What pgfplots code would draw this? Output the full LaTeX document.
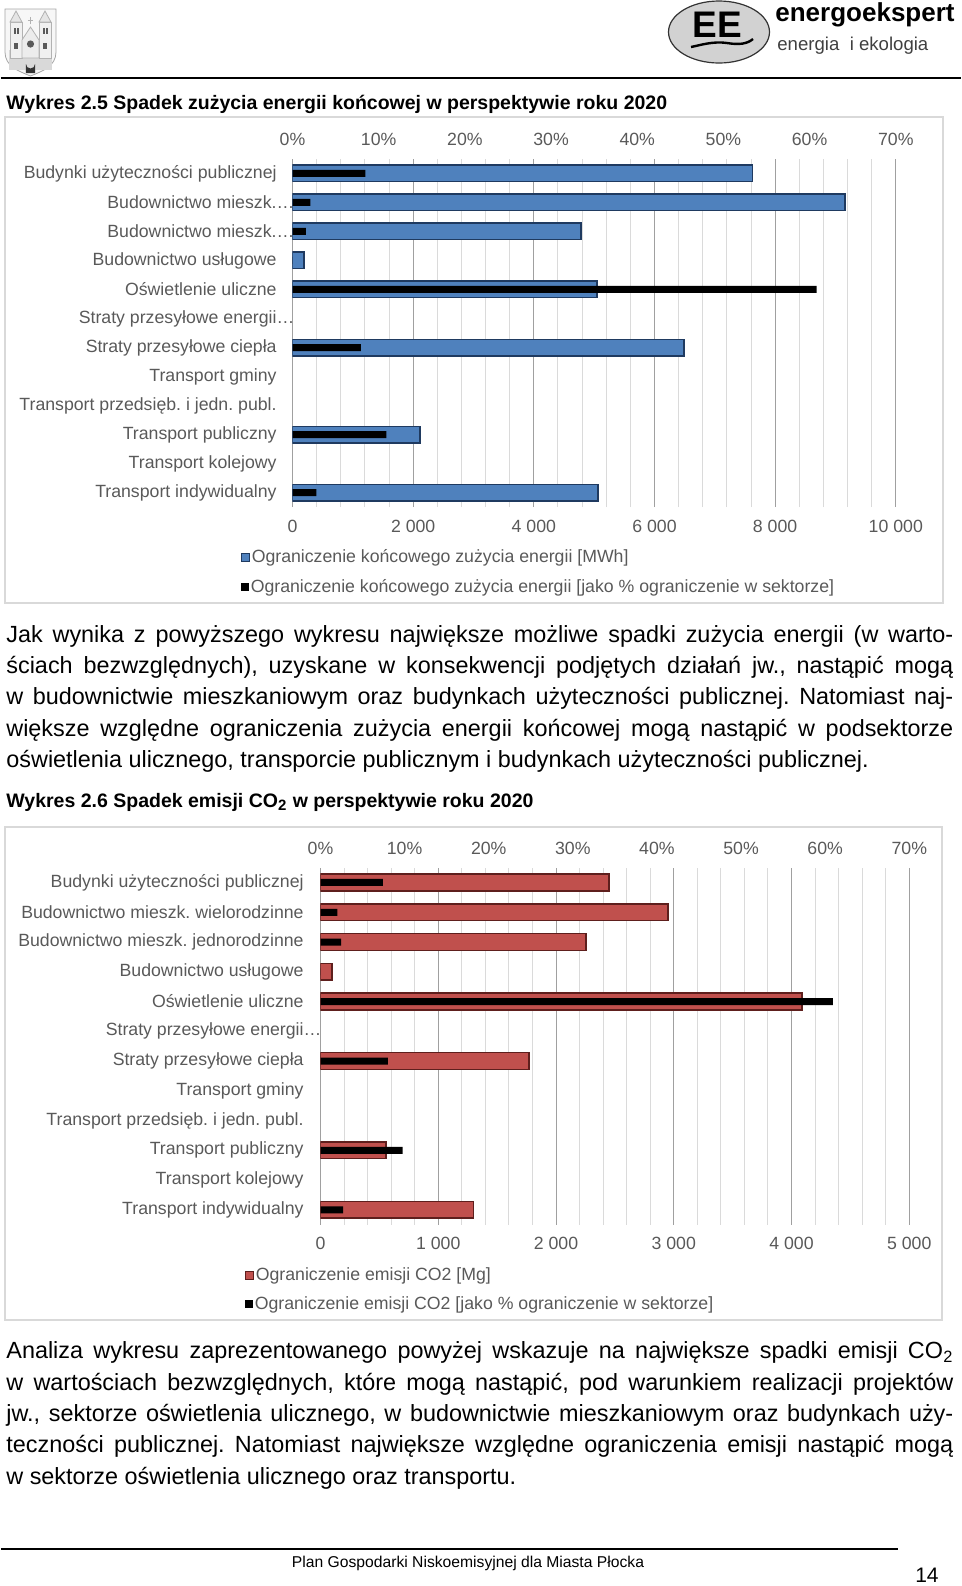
\documentclass[border=0pt]{standalone}
\usepackage{fontspec}
\setmainfont{Liberation Sans}
\usepackage{pgfplots}
\pgfplotsset{compat=1.18}
\usepackage{pgfplotstable}
\frenchspacing

\definecolor{lbl}{HTML}{595959}
\definecolor{gmaj}{HTML}{A0A0A0}
\definecolor{gmin}{HTML}{DADADA}
\definecolor{blu}{HTML}{4F81BD}
\definecolor{bluedge}{HTML}{1F3A60}
\definecolor{redbar}{HTML}{C0504D}
\definecolor{rededge}{HTML}{5E1F1D}
\definecolor{framec}{HTML}{D9D9D9}

\newcommand\chartfont{\fontsize{8.85pt}{10pt}\selectfont}
\newcommand\bodyfont{\fontsize{11.7pt}{15pt}\selectfont}
\newcommand\capfont{\fontsize{9.75pt}{11pt}\selectfont\bfseries}

\pgfplotstableread{
pos mwh pct
12 7627 8.46
11 9156 2.08
10 4783 1.54
9 190 0
8 5049 60.8
6 6494 7.93
3 2114 10.9
1 5065 2.77
}\dataA

\pgfplotstableread{
pos mg pct
12 2449 7.41
11 2953 2.00
10 2256 2.45
9 96 0
8 4089 60.9
6 1773 8.00
3 558 9.76
1 1298 2.70
}\dataB

\pgfplotsset{
  pagechart/.style={
    scale only axis,
    ymin=0.5, ymax=12.5,
    scaled x ticks=false, scaled y ticks=false,
    axis line style={draw=none},
    major tick length=0pt, minor tick length=0pt,
    tick label style={font=\chartfont, text=lbl},
    legend style={draw=none, fill=none, inner sep=0pt, anchor=west,
      nodes={inner sep=1pt, text=lbl, font=\chartfont}},
    legend cell align=left,
  }
}

\begin{document}
\begin{tikzpicture}
\begin{scope}[x=0.5pt,y=-0.5pt]
\path (0,0) rectangle (960,1586);
% ---- header: coat of arms
\draw[gray!70, fill=gray!6, line width=0.4pt] (4,9) -- (55,9) -- (55,52) .. controls (55,66) and (42,71) .. (29.5,76) .. controls (17,71) and (4,66) .. (4,52) -- cycle;
\fill[gray!30] (8,50) rectangle (51,70);
\draw[gray!60, fill=gray!12] (9,22) rectangle (21,58);
\draw[gray!60, fill=gray!12] (38,22) rectangle (50,58);
\draw[gray!60, fill=gray!20] (9,22) -- (15,11) -- (21,22) -- cycle;
\draw[gray!60, fill=gray!20] (38,22) -- (44,11) -- (50,22) -- cycle;
\draw[gray!60, fill=gray!15] (21,58) -- (21,40) -- (29.5,27) -- (38,40) -- (38,58) -- cycle;
\fill[gray!70!black] (29.5,44) circle (3.6);
\fill[gray!70!black] (13,28) rectangle (15,34);
\fill[gray!70!black] (16,28) rectangle (18,34);
\fill[gray!70!black] (42,28) rectangle (44,34);
\fill[gray!70!black] (45,28) rectangle (47,34);
\fill[gray!70!black] (13,43) rectangle (17,49);
\fill[gray!70!black] (42,43) rectangle (46,49);
\fill[black!80] (25,73) -- (25,64) arc[start angle=180, end angle=0, radius=4.5] -- (34,73) -- cycle;
\draw[gray!60] (29.5,24) -- (29.5,17) (27,20) -- (32,20);
% ---- header: logo
\draw[black!80, fill=gray!35, line width=0.6pt] (718,32) ellipse [x radius=50.5, y radius=31];
\node[anchor=base, inner sep=0pt] at (716.5,37) {\fontsize{18.5pt}{20pt}\selectfont\bfseries EE};
\draw[line width=1.2pt] (690,47) .. controls (700,45) and (712,41) .. (726,43) .. controls (738,45) and (746,44) .. (752,39);
\node[anchor=base west, inner sep=0pt] at (774,21) {\fontsize{13pt}{14pt}\selectfont\bfseries energoekspert};
\node[anchor=base west, inner sep=0pt, text=black!75] at (776,50) {\fontsize{9.3pt}{11pt}\selectfont energia\ \ i ekologia};
\draw[line width=1pt] (0,78.3) -- (960,78.3);
% ---- caption 1
\node[anchor=base west, inner sep=0pt] at (5,109) {\capfont Wykres 2.5 Spadek zużycia energii końcowej w perspektywie roku 2020};
% ---- frames
\draw[framec, line width=1pt] (4,117) rectangle (942,603);
\draw[framec, line width=1pt] (4,827) rectangle (941,1320);
% ---- paragraph 1
\node[anchor=base west, inner sep=0pt] at (5,642) {\bodyfont\makebox[473.5pt][s]{Jak wynika z powyższego wykresu największe możliwe spadki zużycia energii (w warto-}};
\node[anchor=base west, inner sep=0pt] at (5,673.4) {\bodyfont\makebox[473.5pt][s]{ściach bezwzględnych), uzyskane w konsekwencji podjętych działań jw., nastąpić mogą}};
\node[anchor=base west, inner sep=0pt] at (5,704.8) {\bodyfont\makebox[473.5pt][s]{w budownictwie mieszkaniowym oraz budynkach użyteczności publicznej. Natomiast naj-}};
\node[anchor=base west, inner sep=0pt] at (5,736.2) {\bodyfont\makebox[473.5pt][s]{większe względne ograniczenia zużycia energii końcowej mogą nastąpić w podsektorze}};
\node[anchor=base west, inner sep=0pt] at (5,767.6) {\bodyfont oświetlenia ulicznego, transporcie publicznym i budynkach użyteczności publicznej.};
% ---- caption 2
\node[anchor=base west, inner sep=0pt] at (5,807) {\capfont Wykres 2.6 Spadek emisji CO\textsubscript{\fontsize{7.5pt}{8pt}\selectfont 2} w perspektywie roku 2020};
% ---- paragraph 2
\node[anchor=base west, inner sep=0pt] at (5,1358.5) {\bodyfont\makebox[473.5pt][s]{Analiza wykresu zaprezentowanego powyżej wskazuje na największe spadki emisji CO\textsubscript{2}}};
\node[anchor=base west, inner sep=0pt] at (5,1390) {\bodyfont\makebox[473.5pt][s]{w wartościach bezwzględnych, które mogą nastąpić, pod warunkiem realizacji projektów}};
\node[anchor=base west, inner sep=0pt] at (5,1421.2) {\bodyfont\makebox[473.5pt][s]{jw., sektorze oświetlenia ulicznego, w budownictwie mieszkaniowym oraz budynkach uży-}};
\node[anchor=base west, inner sep=0pt] at (5,1452.6) {\bodyfont\makebox[473.5pt][s]{teczności publicznej. Natomiast największe względne ograniczenia emisji nastąpić mogą}};
\node[anchor=base west, inner sep=0pt] at (5,1484) {\bodyfont w sektorze oświetlenia ulicznego oraz transportu.};
% ---- footer
\draw[line width=1pt] (0,1549) -- (897,1549);
\node[anchor=base, inner sep=0pt] at (467,1567) {\fontsize{7.84pt}{9pt}\selectfont Plan Gospodarki Niskoemisyjnej dla Miasta Płocka};
\node[anchor=base east, inner sep=0pt] at (938,1582) {\fontsize{10.5pt}{12pt}\selectfont 14};
\end{scope}

% ================= chart 1 : MWh (bottom axis)
\begin{axis}[pagechart,
  at={(145.75pt,-253.6pt)}, anchor=south west,
  width=301.65pt, height=174.2pt,
  xmin=0, xmax=10000,
  xtick={0,2000,4000,6000,8000,10000},
  xticklabels={0,2 000,4 000,6 000,8 000,10 000},
  minor x tick num=4,
  xmajorgrids, xminorgrids,
  major grid style={gmaj, line width=0.5pt},
  minor grid style={gmin, line width=0.5pt},
  ytick={1,...,12},
  yticklabels={Transport indywidualny, Transport kolejowy, Transport publiczny, Transport przedsięb. i jedn. publ., Transport gminy, Straty przesyłowe ciepła, Straty przesyłowe energii\rlap{…}, Oświetlenie uliczne, Budownictwo usługowe, Budownictwo mieszk.\rlap{…}, Budownictwo mieszk.\rlap{…}, Budynki użyteczności publicznej},
  xticklabel style={anchor=center, inner sep=0pt, yshift=-9.4pt},
  yticklabel style={anchor=east, inner sep=0pt, xshift=-7.75pt},
  legend style={at={(-0.0864,-0.145)}},
  legend image code/.code={\draw[fill=blu, draw=bluedge, line width=0.5pt] (0pt,-2pt) rectangle (4pt,2pt);},
]
\addplot[xbar, bar width=8.2pt, bar shift=0pt, fill=blu, draw=bluedge, line width=0.8pt] table[x=mwh, y=pos] {\dataA};
\addlegendentry{Ograniczenie końcowego zużycia energii [MWh]}
\end{axis}

% ================= chart 1 : % (top axis)
\begin{axis}[pagechart,
  at={(145.75pt,-253.6pt)}, anchor=south west,
  width=301.65pt, height=174.2pt,
  xmin=0, xmax=70,
  xtick={0,10,...,70},
  xticklabels={0\%,10\%,20\%,30\%,40\%,50\%,60\%,70\%},
  xticklabel pos=upper,
  ytick=\empty,
  xticklabel style={anchor=center, inner sep=0pt, yshift=9.65pt},
  legend style={at={(-0.0864,-0.229)}},
  legend image code/.code={\fill[black] (0pt,-2pt) rectangle (4pt,2pt);},
]
\addplot[xbar, bar width=3.5pt, bar shift=0pt, fill=black, draw=none] table[x=pct, y=pos] {\dataA};
\addlegendentry{Ograniczenie końcowego zużycia energii [jako \% ograniczenie w sektorze]}
\end{axis}

% ================= chart 2 : Mg (bottom axis)
\begin{axis}[pagechart,
  at={(159.75pt,-612.35pt)}, anchor=south west,
  width=294.4pt, height=178.55pt,
  xmin=0, xmax=5000,
  xtick={0,1000,2000,3000,4000,5000},
  xticklabels={0,1 000,2 000,3 000,4 000,5 000},
  minor x tick num=4,
  xmajorgrids, xminorgrids,
  major grid style={gmaj, line width=0.5pt},
  minor grid style={gmin, line width=0.5pt},
  ytick={1,...,12},
  yticklabels={Transport indywidualny, Transport kolejowy, Transport publiczny, Transport przedsięb. i jedn. publ., Transport gminy, Straty przesyłowe ciepła, Straty przesyłowe energii\rlap{…}, Oświetlenie uliczne, Budownictwo usługowe, Budownictwo mieszk. jednorodzinne, Budownictwo mieszk. wielorodzinne, Budynki użyteczności publicznej},
  xticklabel style={anchor=center, inner sep=0pt, yshift=-9.15pt},
  yticklabel style={anchor=east, inner sep=0pt, xshift=-8.25pt},
  legend style={at={(-0.1292,-0.1414)}},
  legend image code/.code={\draw[fill=redbar, draw=rededge, line width=0.5pt] (0pt,-2pt) rectangle (4pt,2pt);},
]
\addplot[xbar, bar width=8.35pt, bar shift=0pt, fill=redbar, draw=rededge, line width=0.8pt] table[x=mg, y=pos] {\dataB};
\addlegendentry{Ograniczenie emisji CO2 [Mg]}
\end{axis}

% ================= chart 2 : % (top axis)
\begin{axis}[pagechart,
  at={(159.75pt,-612.35pt)}, anchor=south west,
  width=294.4pt, height=178.55pt,
  xmin=0, xmax=70,
  xtick={0,10,...,70},
  xticklabels={0\%,10\%,20\%,30\%,40\%,50\%,60\%,70\%},
  xticklabel pos=upper,
  ytick=\empty,
  xticklabel style={anchor=center, inner sep=0pt, yshift=9.55pt},
  legend style={at={(-0.1292,-0.2226)}},
  legend image code/.code={\fill[black] (0pt,-2pt) rectangle (4pt,2pt);},
]
\addplot[xbar, bar width=3.5pt, bar shift=0pt, fill=black, draw=none] table[x=pct, y=pos] {\dataB};
\addlegendentry{Ograniczenie emisji CO2 [jako \% ograniczenie w sektorze]}
\end{axis}
\end{tikzpicture}
\end{document}
